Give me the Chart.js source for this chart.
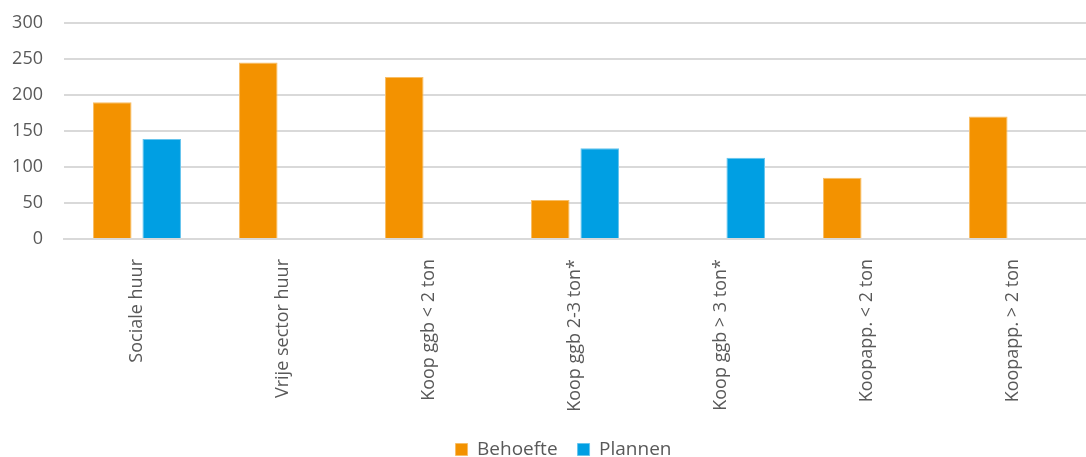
<!DOCTYPE html>
<html>
<head>
<meta charset="utf-8">
<script src="https://cdn.jsdelivr.net/npm/chart.js@4"></script>
<style>
  html, body { margin: 0; padding: 0; background: #fff; }
  #wrap { width: 1086px; height: 457px; }
</style>
</head>
<body>
<div id="wrap"><canvas id="barChart"></canvas></div>
<script>
var categorieen = ['Sociale huur', 'Vrije sector huur', 'Koop ggb < 2 ton', 'Koop ggb 2-3 ton*', 'Koop ggb > 3 ton*', 'Koopapp. < 2 ton', 'Koopapp. > 2 ton']
var behoefte = [190, 245, 225, 54, 0, 85, 170]
var plannen = [139, 0, 0, 126, 113, 0, 0]
var yTicks = [0, 50, 100, 150, 200, 250, 300]

var tekstKleur = '#595959'
var rasterKleur = '#d9d9d9'

var barChartData = {
  labels: categorieen,
  datasets: [
    {
      label: 'Behoefte',
      backgroundColor: '#f39200',
      borderColor: '#f8be66',
      borderWidth: 1,
      data: behoefte
    },
    {
      label: 'Plannen',
      backgroundColor: '#009fe3',
      borderColor: '#66c5ee',
      borderWidth: 1,
      data: plannen
    }
  ]
}

// legenda iets naar rechts, zoals in het origineel
var legendaVerschuiving = {
  id: 'legendaVerschuiving',
  afterLayout: function (chart) {
    chart.legend.left += 14
    chart.legend.right += 14
  }
}

var barChartOptions = {
  responsive: true,
  maintainAspectRatio: false,
  animation: false,
  // grafiek loopt rechts iets buiten beeld, net als in het origineel
  layout: { padding: { top: 23, right: -13, left: 0, bottom: -12 } },
  datasets: { bar: { categoryPercentage: 0.677, barPercentage: 0.78 } },
  plugins: {
    legend: {
      position: 'bottom',
      labels: {
        color: tekstKleur,
        font: { family: 'Open Sans', size: 19, lineHeight: 1 },
        boxWidth: 12,
        boxHeight: 12,
        padding: 20,
        useBorderRadius: false
      }
    },
    tooltip: { enabled: false }
  },
  scales: {
    x: {
      grid: { display: false },
      border: { display: true, color: rasterKleur, width: 2 },
      ticks: {
        color: tekstKleur,
        font: { family: 'Open Sans', size: 18 },
        minRotation: 90,
        maxRotation: 90,
        padding: 12
      },
      afterFit: function (scale) { scale.height = 181 }
    },
    y: {
      min: 0,
      max: 300,
      afterBuildTicks: function (scale) {
        scale.ticks = yTicks.map(function (v) { return { value: v } })
      },
      grid: { color: rasterKleur, lineWidth: 2, drawTicks: false },
      border: { display: false },
      ticks: {
        color: tekstKleur,
        font: { family: 'Open Sans', size: 18 },
        padding: 21
      },
      afterFit: function (scale) {
        scale.width = 64
        scale.paddingTop = 0
        scale.paddingBottom = 0
      }
    }
  }
}

new Chart(document.getElementById('barChart').getContext('2d'), {
  type: 'bar',
  data: barChartData,
  options: barChartOptions,
  plugins: [legendaVerschuiving]
})
</script>
</body>
</html>
